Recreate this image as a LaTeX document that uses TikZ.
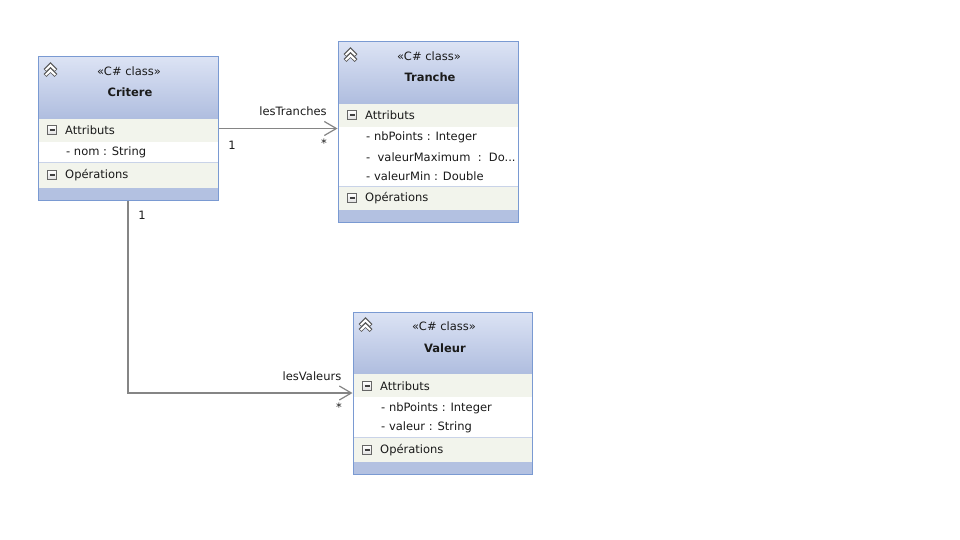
\documentclass[tikz,border=0pt]{standalone}
\usepackage{fontspec}
\setmainfont{DejaVu Sans}
\usetikzlibrary{arrows.meta}
\definecolor{bordercol}{HTML}{7A9AD2}
\definecolor{headtop}{HTML}{DCE3F4}
\definecolor{headbot}{HTML}{AFBDDF}
\definecolor{comprow}{HTML}{F2F4EC}
\definecolor{bandcol}{HTML}{B3C1E1}
\definecolor{sepcol}{HTML}{C9D3E8}
\definecolor{linecol}{HTML}{858585}
\definecolor{txtcol}{HTML}{1A1A1A}
\tikzset{
  classbox/.style={draw=bordercol, line width=1pt, rectangle, inner sep=0pt},
  txt/.style={font=\fontsize{11.5}{13}\selectfont, text=txtcol, inner sep=0pt},
  ttl/.style={font=\fontsize{11.5}{13}\selectfont\bfseries, text=txtcol, inner sep=0pt},
  lefttxt/.style={txt, anchor=west},
  assoc/.style={draw=linecol, line width=1.2pt, -{Straight Barb[length=12pt,width=14pt,line width=1.2pt]}},
  lbl/.style={font=\fontsize{11.5}{13}\selectfont, text=txtcol, inner sep=0pt}
}
% icons
\newcommand{\minusicon}[2]{%
  \draw[draw=gray!80!black, line width=0.8pt, top color=white, bottom color=gray!25] (#1-4.5,#2-4.5) rectangle (#1+4.5,#2+4.5);
  \draw[line width=1.2pt, black!75] (#1-2.5,#2) -- (#1+2.5,#2);}
\newcommand{\chevicon}[2]{%
  \foreach \dy in {0,5}{%
    \draw[line width=4.2pt, black!65, line join=miter] (#1-5.5,#2+3.5+\dy) -- (#1,#2-2+\dy) -- (#1+5.5,#2+3.5+\dy);
    \draw[line width=2pt, white, line join=miter] (#1-4.8,#2+3.1+\dy) -- (#1,#2-1.6+\dy) -- (#1+4.8,#2+3.1+\dy);}}
% class box background: L T R hb ab ob B
\newcommand{\classbg}[7]{%
  \shade[top color=headtop, bottom color=headbot] (#1,#2) rectangle (#3,#4);
  \fill[comprow] (#1,#4) rectangle (#3,#5);
  \fill[white] (#1,#5) rectangle (#3,#6);
  \draw[sepcol, line width=1pt] (#1,#6) -- (#3,#6);
  \fill[comprow] (#1,#6+0.5) rectangle (#3,#7-12);
  \fill[bandcol] (#1,#7-12) rectangle (#3,#7);}
\begin{document}
\begin{tikzpicture}[x=1pt,y=-1pt]
\useasboundingbox (0,0) rectangle (960,540);
\fill[white] (0,0) rectangle (960,540);

% ---------- Critere ----------
\classbg{38}{57}{218}{119}{142}{163}{200}
\node[classbox, minimum width=180pt, minimum height=143pt] (crit) at (128,128.5) {};
\chevicon{50.5}{67}
\node[txt] (critst) at (129,71) {«C\# class»};
\node[ttl] (critname) at (130,92) {Critere};
\minusicon{52}{130}
\node[lefttxt] (critattr) at (65,130) {Attributs};
\node[lefttxt] (critnom) at (66,152.5) {- nom : String};
\minusicon{52}{175}
\node[lefttxt] (critops) at (65,175) {Opérations};

% ---------- Tranche ----------
\classbg{338}{42}{518}{104}{127}{186}{222}
\node[classbox, minimum width=180pt, minimum height=180pt] (tran) at (428,132) {};
\chevicon{350.5}{52}
\node[txt] (transt) at (429,56) {«C\# class»};
\node[ttl] (tranname) at (430,77) {Tranche};
\minusicon{352}{115}
\node[lefttxt] (tranattr) at (365,115) {Attributs};
\node[lefttxt] (tranA) at (366,137.5) {- nbPoints : Integer};
\node[lefttxt] (tranB) at (366,157) {-\ \ valeurMaximum\ \ :\ \ Do...};
\node[lefttxt] (tranC) at (366,176.5) {- valeurMin : Double};
\minusicon{352}{198}
\node[lefttxt] (tranops) at (365,198) {Opérations};

% ---------- Valeur ----------
\classbg{353}{312}{532}{374}{397}{437}{474}
\node[classbox, minimum width=179pt, minimum height=162pt] (val) at (442.5,393) {};
\chevicon{365.5}{322}
\node[txt] (valst) at (444,326) {«C\# class»};
\node[ttl] (valname) at (445,348) {Valeur};
\minusicon{367}{386}
\node[lefttxt] (valattr) at (380,386) {Attributs};
\node[lefttxt] (valA) at (381,408.5) {- nbPoints : Integer};
\node[lefttxt] (valB) at (381,427.5) {- valeur : String};
\minusicon{367}{450}
\node[lefttxt] (valops) at (380,450) {Opérations};

% ---------- associations ----------
\draw[assoc] (crit.east) -- (crit.east -| tran.west);
\node[lbl] (l1) at (293,111) {lesTranches};
\node[lbl] (m1a) at (232,145) {1};
\node[lbl] (m1b) at (324,143) {*};

\draw[assoc] (crit.south) |- (val.west);
\node[lbl] (l2) at (312,376.5) {lesValeurs};
\node[lbl] (m2a) at (142,215) {1};
\node[lbl] (m2b) at (339,407) {*};
\end{tikzpicture}
\end{document}
